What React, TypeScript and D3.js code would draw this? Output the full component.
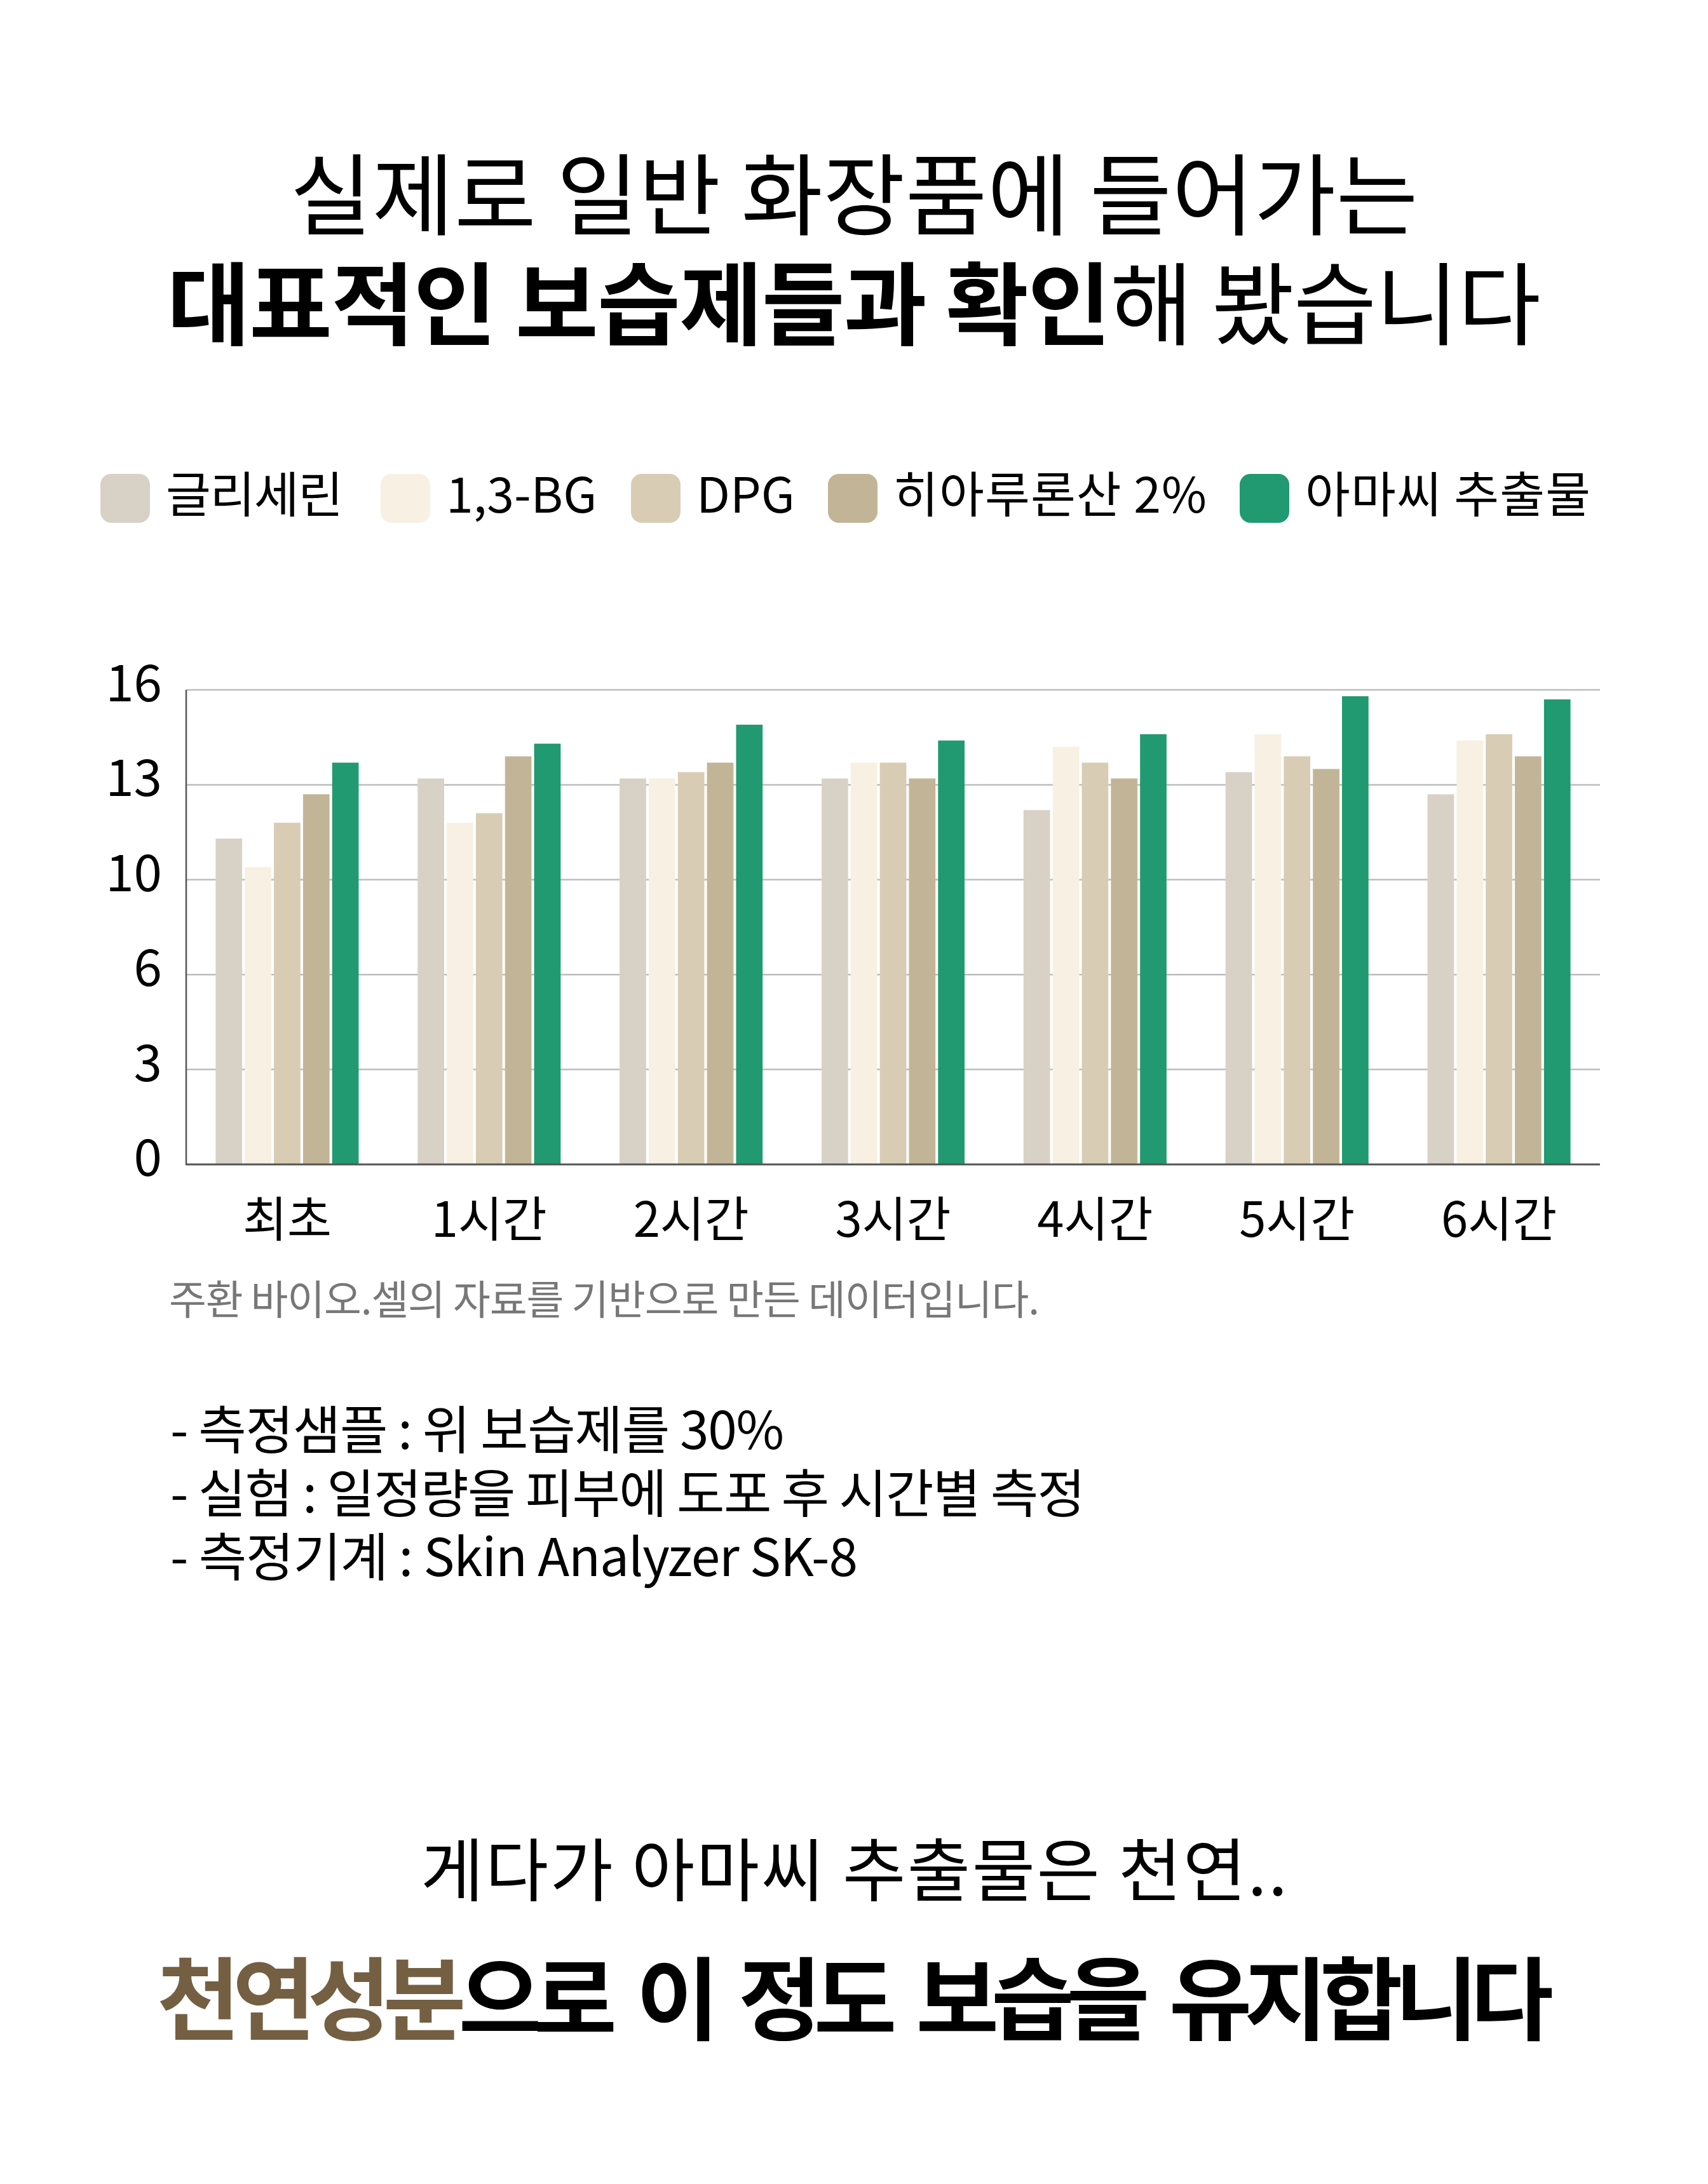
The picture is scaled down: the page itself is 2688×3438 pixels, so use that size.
import React, { useEffect, useRef } from 'react';
import * as d3 from 'd3';

// chart data
const categories = ['최초', '1시간', '2시간', '3시간', '4시간', '5시간', '6시간'];
const seriesNames = ['글리세린', '1,3-BG', 'DPG', '히아루론산 2%', '아마씨 추출물'];
const glycerin = [11.3, 13.2, 13.2, 13.2, 12.2, 13.4, 12.7];
const bg13 = [10.4, 11.8, 13.2, 13.7, 14.2, 14.6, 14.4];
const dpg = [11.8, 12.1, 13.4, 13.7, 13.7, 13.9, 14.6];
const hyaluronic = [12.7, 13.9, 13.7, 13.2, 13.2, 13.5, 13.9];
const flaxseed = [13.7, 14.3, 14.9, 14.4, 14.6, 15.8, 15.7];
const yTicks = [0, 3, 6, 10, 13, 16];

const colors = ['#d8d1c6', '#f7f0e3', '#d8ccb4', '#c2b597', '#219a71'];

const App = () => {
  const svgRef = useRef(null);

  useEffect(() => {
    if (!svgRef.current) return;
    document.body.style.margin = '0';

    const svg = d3.select(svgRef.current);
    svg.selectAll('*').remove();

    const W = 2688;
    const H = 3438;
    const cx = W / 2;

    svg.append('rect').attr('width', W).attr('height', H).attr('fill', '#ffffff');

    // Titles
    svg
      .append('text')
      .attr('x', cx)
      .attr('y', 298)
      .attr('text-anchor', 'middle')
      .attr('dominant-baseline', 'central')
      .attr('font-size', 140)
      .attr('textLength', 1775)
      .attr('lengthAdjust', 'spacing')
      .text('실제로 일반 화장품에 들어가는');

    const t2 = svg
      .append('text')
      .attr('x', cx)
      .attr('y', 470)
      .attr('text-anchor', 'middle')
      .attr('dominant-baseline', 'central')
      .attr('font-size', 142)
      .attr('textLength', 2162)
      .attr('lengthAdjust', 'spacing');
    t2.append('tspan').attr('font-weight', 700).text('대표적인 보습제들과 확인');
    t2.append('tspan').attr('font-weight', 400).text('해 봤습니다');

    // Legend
    const legendX = [158, 599, 993, 1303, 1951];
    const legendW = [279, null, null, 493, 449];
    const legend = svg.append('g');
    seriesNames.forEach((name, i) => {
      legend
        .append('rect')
        .attr('x', legendX[i])
        .attr('y', 746)
        .attr('width', 78)
        .attr('height', 77)
        .attr('rx', 17)
        .attr('fill', colors[i]);
      const t = legend
        .append('text')
        .attr('x', legendX[i] + 103)
        .attr('y', 773)
        .attr('dominant-baseline', 'central')
        .attr('font-size', 77)
        .text(name);
      if (legendW[i]) t.attr('textLength', legendW[i]).attr('lengthAdjust', 'spacing');
    });

    // Chart area
    const left = 293;
    const right = 2518;
    const top = 1086;
    const bottom = 1833;

    // y ticks are evenly spaced even though the values are not
    const y = d3
      .scaleLinear()
      .domain(yTicks)
      .range(yTicks.map((_, i) => bottom - (i * (bottom - top)) / (yTicks.length - 1)));

    const x0 = d3
      .scaleBand()
      .domain(categories)
      .range([left, right])
      .paddingInner(0.292)
      .paddingOuter(0.146);

    const x1 = d3
      .scaleBand()
      .domain(seriesNames)
      .range([0, x0.bandwidth()])
      .paddingInner(0.09);

    // gridlines
    svg
      .append('g')
      .selectAll('line')
      .data(yTicks.filter(d => d > 0))
      .enter()
      .append('line')
      .attr('x1', left)
      .attr('x2', right)
      .attr('y1', d => y(d))
      .attr('y2', d => y(d))
      .attr('stroke', '#bdbdbd')
      .attr('stroke-width', 2.5);

    // bars
    const series = [glycerin, bg13, dpg, hyaluronic, flaxseed];
    const rows = categories.map((c, ci) => ({
      cat: c,
      vals: seriesNames.map((s, si) => ({ s, si, v: series[si][ci] }))
    }));

    svg
      .append('g')
      .selectAll('g')
      .data(rows)
      .enter()
      .append('g')
      .attr('transform', d => `translate(${x0(d.cat)},0)`)
      .selectAll('rect')
      .data(d => d.vals)
      .enter()
      .append('rect')
      .attr('x', d => x1(d.s))
      .attr('width', x1.bandwidth())
      .attr('y', d => y(d.v))
      .attr('height', d => bottom - y(d.v))
      .attr('fill', d => colors[d.si]);

    // axis lines
    svg
      .append('line')
      .attr('x1', left)
      .attr('x2', left)
      .attr('y1', top)
      .attr('y2', bottom)
      .attr('stroke', '#555555')
      .attr('stroke-width', 2.5);
    svg
      .append('line')
      .attr('x1', left - 1)
      .attr('x2', right)
      .attr('y1', bottom)
      .attr('y2', bottom)
      .attr('stroke', '#555555')
      .attr('stroke-width', 3);

    // y tick labels
    svg
      .append('g')
      .selectAll('text')
      .data(yTicks)
      .enter()
      .append('text')
      .attr('x', 255)
      .attr('y', d => y(d) + 18)
      .attr('text-anchor', 'end')
      .attr('font-size', 80)
      .text(d => d);

    // x labels
    svg
      .append('g')
      .selectAll('text')
      .data(categories)
      .enter()
      .append('text')
      .attr('x', d => x0(d) + x0.bandwidth() / 2)
      .attr('y', 1914)
      .attr('text-anchor', 'middle')
      .attr('dominant-baseline', 'central')
      .attr('font-size', 76)
      .text(d => d);

    // source note
    svg
      .append('text')
      .attr('x', 266)
      .attr('y', 2041)
      .attr('dominant-baseline', 'central')
      .attr('font-size', 64)
      .attr('fill', '#777777')
      .attr('textLength', 1370)
      .attr('lengthAdjust', 'spacing')
      .text('주환 바이오.셀의 자료를 기반으로 만든 데이터입니다.');

    // test notes
    const notes = [
      '- 측정샘플 : 위 보습제를 30%',
      '- 실험 : 일정량을 피부에 도포 후 시간별 측정',
      '- 측정기계 : Skin Analyzer SK-8'
    ];
    const noteW = [966, 1440, 1082];
    notes.forEach((n, i) => {
      svg
        .append('text')
        .attr('x', 268)
        .attr('y', 2245 + i * 100)
        .attr('dominant-baseline', 'central')
        .attr('font-size', 82)
        .attr('textLength', noteW[i])
        .attr('lengthAdjust', 'spacing')
        .text(n);
    });

    // closing lines
    svg
      .append('text')
      .attr('x', cx)
      .attr('y', 2937)
      .attr('text-anchor', 'middle')
      .attr('dominant-baseline', 'central')
      .attr('font-size', 108)
      .attr('textLength', 1364)
      .attr('lengthAdjust', 'spacing')
      .text('게다가 아마씨 추출물은 천연..');

    const b2 = svg
      .append('text')
      .attr('x', cx - 4)
      .attr('y', 3138)
      .attr('text-anchor', 'middle')
      .attr('dominant-baseline', 'central')
      .attr('font-size', 142)
      .attr('font-weight', 700)
      .style('letter-spacing', '-12px')
      .style('word-spacing', '22px');
    b2.append('tspan').attr('fill', '#745f43').text('천연성분');
    b2.append('tspan').attr('fill', '#000000').text('으로 이 정도 보습을 유지합니다');
  }, []);

  return (
    <svg
      ref={svgRef}
      width={2688}
      height={3438}
      style={{ display: 'block', fontFamily: '"Noto Sans CJK KR", "Noto Sans", sans-serif' }}
    />
  );
};

export default App;
